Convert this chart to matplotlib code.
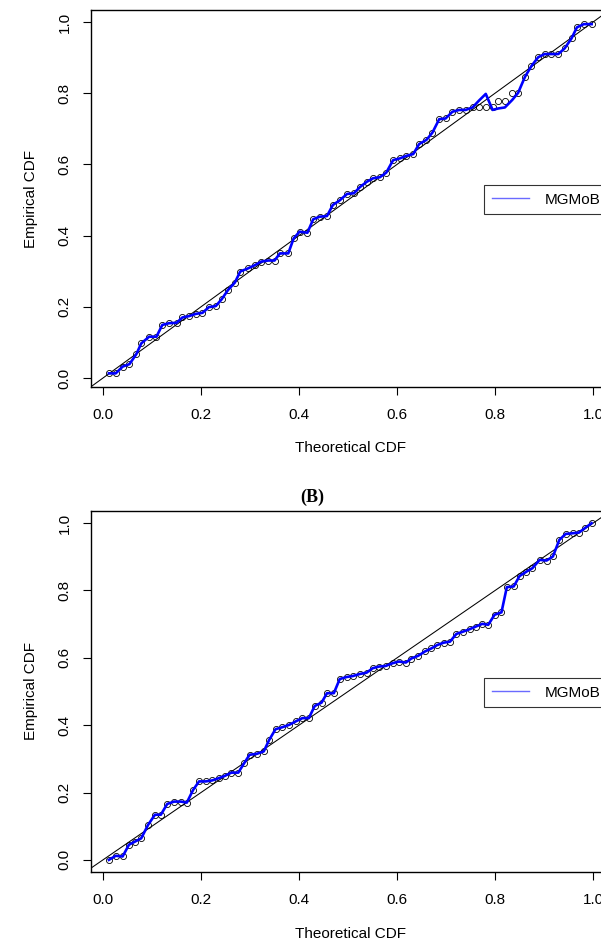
import numpy as np
import matplotlib
matplotlib.use("Agg")
import matplotlib.pyplot as plt

plt.rcParams['font.family'] = ['Liberation Sans', 'DejaVu Sans']

# panel A: theoretical vs empirical CDF (circles) and fitted line
top_theo = [0.012, 0.026, 0.040, 0.054, 0.068, 0.078, 0.094, 0.109, 0.121, 0.135,
            0.150, 0.162, 0.176, 0.189, 0.203, 0.216, 0.230, 0.242, 0.255, 0.269,
            0.280, 0.296, 0.310, 0.323, 0.337, 0.350, 0.361, 0.378, 0.389, 0.401,
            0.417, 0.429, 0.442, 0.457, 0.469, 0.483, 0.498, 0.512, 0.524, 0.538,
            0.551, 0.565, 0.578, 0.592, 0.606, 0.619, 0.633, 0.645, 0.660, 0.672,
            0.686, 0.699, 0.713, 0.727, 0.740, 0.754, 0.767, 0.781, 0.795, 0.806,
            0.820, 0.835, 0.847, 0.861, 0.874, 0.888, 0.901, 0.915, 0.929, 0.942,
            0.956, 0.967, 0.981, 0.997]
top_emp = [0.013, 0.013, 0.032, 0.039, 0.067, 0.097, 0.116, 0.116, 0.149, 0.154,
           0.155, 0.170, 0.174, 0.180, 0.183, 0.199, 0.202, 0.221, 0.247, 0.268,
           0.299, 0.308, 0.317, 0.327, 0.330, 0.330, 0.350, 0.350, 0.392, 0.411,
           0.408, 0.446, 0.453, 0.455, 0.486, 0.499, 0.517, 0.519, 0.536, 0.551,
           0.561, 0.564, 0.577, 0.612, 0.617, 0.624, 0.629, 0.657, 0.669, 0.689,
           0.727, 0.729, 0.748, 0.753, 0.753, 0.760, 0.760, 0.760, 0.760, 0.779,
           0.779, 0.801, 0.801, 0.846, 0.876, 0.901, 0.910, 0.910, 0.910, 0.926,
           0.954, 0.985, 0.994, 0.994]
top_fit = [0.013, 0.013, 0.032, 0.039, 0.067, 0.097, 0.116, 0.116, 0.149, 0.154,
           0.155, 0.170, 0.174, 0.180, 0.183, 0.199, 0.202, 0.221, 0.247, 0.268,
           0.299, 0.308, 0.317, 0.327, 0.330, 0.330, 0.350, 0.350, 0.392, 0.411,
           0.408, 0.446, 0.453, 0.455, 0.486, 0.499, 0.517, 0.519, 0.536, 0.551,
           0.561, 0.564, 0.577, 0.612, 0.617, 0.624, 0.629, 0.657, 0.669, 0.689,
           0.727, 0.729, 0.748, 0.753, 0.753, 0.760, 0.779, 0.798, 0.753, 0.757,
           0.760, 0.781, 0.801, 0.846, 0.876, 0.901, 0.910, 0.910, 0.910, 0.926,
           0.954, 0.985, 0.994, 0.994]

# panel B
bot_theo = [0.012, 0.026, 0.040, 0.053, 0.065, 0.078, 0.092, 0.106, 0.118, 0.131,
            0.145, 0.159, 0.171, 0.184, 0.196, 0.210, 0.223, 0.237, 0.248, 0.262,
            0.276, 0.288, 0.299, 0.314, 0.328, 0.339, 0.352, 0.366, 0.380, 0.393,
            0.407, 0.420, 0.432, 0.446, 0.457, 0.471, 0.483, 0.497, 0.510, 0.524,
            0.538, 0.550, 0.563, 0.577, 0.591, 0.604, 0.618, 0.629, 0.643, 0.657,
            0.670, 0.682, 0.695, 0.708, 0.721, 0.735, 0.748, 0.761, 0.774, 0.786,
            0.799, 0.813, 0.824, 0.838, 0.850, 0.864, 0.876, 0.891, 0.905, 0.918,
            0.931, 0.944, 0.958, 0.971, 0.983, 0.997]
bot_emp = [0.000, 0.012, 0.010, 0.045, 0.054, 0.064, 0.104, 0.134, 0.134, 0.166,
           0.173, 0.173, 0.170, 0.208, 0.233, 0.233, 0.236, 0.243, 0.249, 0.259,
           0.259, 0.287, 0.312, 0.315, 0.322, 0.356, 0.388, 0.394, 0.401, 0.411,
           0.421, 0.421, 0.457, 0.467, 0.495, 0.495, 0.537, 0.543, 0.546, 0.552,
           0.556, 0.569, 0.574, 0.576, 0.584, 0.589, 0.586, 0.598, 0.606, 0.619,
           0.628, 0.638, 0.645, 0.648, 0.671, 0.678, 0.685, 0.693, 0.701, 0.698,
           0.728, 0.735, 0.810, 0.812, 0.843, 0.856, 0.866, 0.891, 0.889, 0.901,
           0.950, 0.968, 0.970, 0.972, 0.985, 1.000]
bot_fit = bot_emp

legend_label = "MGMoB"

W, H = 601, 939
FS = 11
fig = plt.figure(figsize=(W / 100, H / 100), dpi=100)


def pp_panel(rect, theo, emp, fit, xlim, ylim):
    ax = fig.add_axes(rect)
    ax.plot(theo, emp, 'o', ms=4.4, mfc='none', mec='black', mew=0.6, zorder=2)
    ax.plot([-1, 2], [-1, 2], color='black', lw=0.75, zorder=3)
    ax.plot(theo, fit, color='#0000ff', lw=1.9, zorder=4, label=legend_label)
    ax.set_xlim(xlim)
    ax.set_ylim(ylim)
    ticks = np.arange(0, 1.01, 0.2)
    ax.set_xticks(ticks)
    ax.set_yticks(ticks)
    ax.set_xticklabels(['%.1f' % t for t in ticks])
    ax.set_yticklabels(['%.1f' % t for t in ticks], rotation=90, va='center')
    ax.tick_params(direction='out', length=6, width=0.8, labelsize=FS, pad=9)
    ax.tick_params(axis='y', pad=8)
    for s in ax.spines.values():
        s.set_linewidth(1.0)
    ax.set_xlabel('Theoretical CDF', fontsize=FS, labelpad=14)
    ax.set_ylabel('Empirical CDF', fontsize=FS, labelpad=14)
    leg = ax.legend(loc='center left', bbox_to_anchor=(0.757, 0.497),
                    fontsize=FS, frameon=True, fancybox=False, borderpad=0.5,
                    handlelength=2.45, handletextpad=1.05, borderaxespad=0)
    leg.get_frame().set_edgecolor('black')
    leg.get_frame().set_linewidth(0.8)
    leg.get_lines()[0].set_linewidth(1.0)
    leg.get_lines()[0].set_color('#6a6aff')
    return ax


# pixel layout -> figure fractions
pp_panel([91 / W, 1 - 387 / H, 519 / W, 377 / H],
         top_theo, top_emp, top_fit, (-0.0245, 1.0345), (-0.0253, 1.0337))
pp_panel([91 / W, 1 - 872.3 / H, 519 / W, 361.6 / H],
         bot_theo, bot_emp, bot_fit, (-0.0245, 1.0345), (-0.037, 1.037))

fig.text(312 / W, 1 - 497 / H, '(B)', ha='center', va='center', fontsize=13,
         fontweight='bold', family=['Liberation Serif', 'DejaVu Serif'])

fig.savefig('out.png', dpi=100)
